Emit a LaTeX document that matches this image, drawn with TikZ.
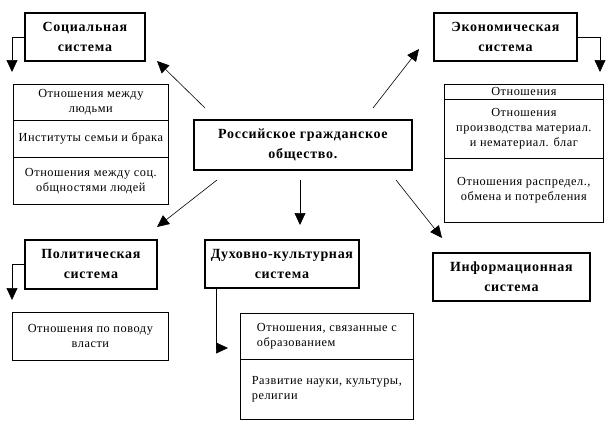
\documentclass[tikz,border=0pt]{standalone}
\usepackage{fontspec}
\setmainfont{Liberation Serif}
\newfontfamily\titlefont[LetterSpace=5]{Liberation Serif}
\newfontfamily\cellfont[LetterSpace=4.5]{Liberation Serif}
\usetikzlibrary{arrows.meta}
\begin{document}
\begin{tikzpicture}[x=1pt,y=-1pt,
  titlebox/.style={draw,line width=1.8pt,align=center,inner sep=0pt,anchor=north west,
    font=\titlefont\fontsize{14}{20}\selectfont\bfseries},
  cell/.style={draw,line width=0.7pt,align=center,inner sep=0pt,anchor=north west,
    font=\cellfont\fontsize{12.3}{15}\selectfont},
  conn/.style={line width=0.6pt,-{Triangle[width=11pt,length=12pt]}}
]
\useasboundingbox (0,0) rectangle (615,423);
% title boxes
\node[titlebox,minimum width=120pt,minimum height=48pt] (soc) at (24,12) {Социальная\\система};
\node[titlebox,minimum width=143pt,minimum height=48pt] (eco) at (433,12) {Экономическая\\система};
\node[titlebox,minimum width=218pt,minimum height=50pt] (ctr) at (193,119) {Российское гражданское\\общество.};
\node[titlebox,minimum width=132pt,minimum height=49pt] (pol) at (24,239) {Политическая\\система};
\node[titlebox,minimum width=154pt,minimum height=48pt] (spi) at (204,239) {Духовно-культурная\\система};
\node[titlebox,minimum width=157pt,minimum height=48pt] (inf) at (432,252) {Информационная\\система};
% social list
\node[cell,minimum width=155pt,minimum height=36pt] (s1) at (13,84) {Отношения между\\людьми};
\node[cell,minimum width=155pt,minimum height=37pt] (s2) at (13,120) {Институты семьи и брака};
\node[cell,minimum width=155pt,minimum height=47pt] (s3) at (13,157) {Отношения между соц.\\общностями людей};
% economic list
\node[cell,minimum width=159pt,minimum height=15pt] (e1) at (444,84) {Отношения};
\node[cell,minimum width=159pt,minimum height=59pt] (e2) at (444,99) {Отношения\\производства материал.\\и нематериал. благ};
\node[cell,minimum width=159pt,minimum height=64pt] (e3) at (444,158) {Отношения распредел.,\\обмена и потребления};
% political list
\node[cell,minimum width=156pt,minimum height=48pt] (p1) at (12,312) {Отношения по поводу\\власти};
% spiritual list
\node[cell,align=left,minimum width=173pt,minimum height=46pt] (d1) at (240,313) {Отношения, связанные с\\образованием};
\node[cell,align=left,minimum width=173pt,minimum height=60pt] (d2) at (240,359) {Развитие науки, культуры,\\религии};
% free ends
\coordinate (c1) at (205,108); \coordinate (t1) at (157,61);
\coordinate (c2) at (373,108); \coordinate (t2) at (419,49);
\coordinate (c3) at (217,180); \coordinate (t3) at (157,227);
\coordinate (c4) at (300,180); \coordinate (t4) at (300,225);
\coordinate (c5) at (396,180); \coordinate (t5) at (442,238);
\draw[conn] (c1) -- (t1);
\draw[conn] (c2) -- (t2);
\draw[conn] (c3) -- (t3);
\draw[conn] (c4) -- (t4);
\draw[conn] (c5) -- (t5);
% side arrows
\coordinate (sa) at (12,72);
\coordinate (ea) at (600,72);
\coordinate (pa) at (12,300);
\coordinate (da) at (228,348);
\draw[conn] (soc.west) -| (sa);
\draw[conn] (eco.east) -| (ea);
\draw[conn] (pol.west) -| (pa);
\draw[conn] ([xshift=12pt]spi.south west) |- (da);
\end{tikzpicture}
\end{document}
